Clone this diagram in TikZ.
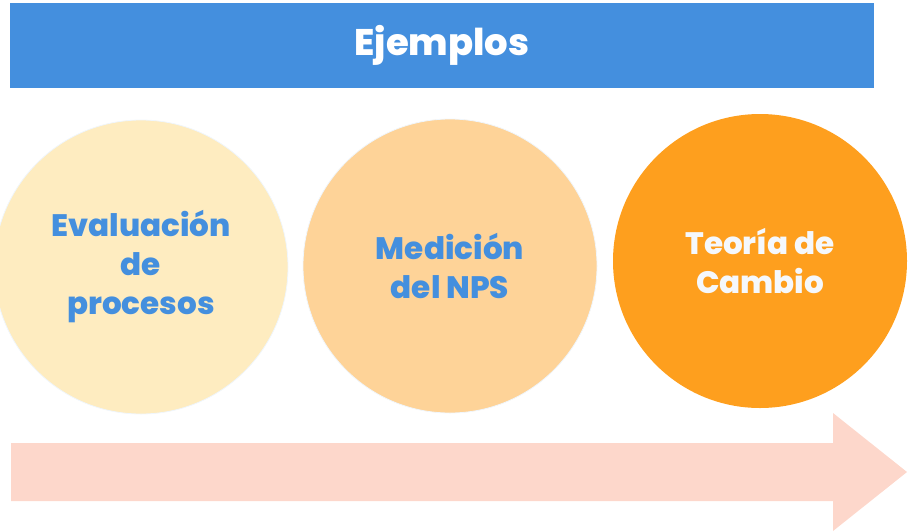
\documentclass[tikz,border=0pt]{standalone}
\usepackage{fontspec}
\setmainfont{Poppins}[BoldFont={* ExtraBold}]
\usepackage{tikz}

\definecolor{azul}{HTML}{448FDE}
\definecolor{crema}{HTML}{FEECC0}
\definecolor{melon}{HTML}{FED398}
\definecolor{naranja}{HTML}{FE9F1E}
\definecolor{salmon}{HTML}{FDD7CB}
\definecolor{blanco}{HTML}{F5F8FC}

\tikzset{
  etapa/.style={circle, minimum size=294pt, inner sep=0pt, draw=azul!8, line width=0.8pt,
    align=center, font=\bfseries\fontsize{31}{39}\selectfont}
}

\begin{document}
\begin{tikzpicture}[x=1pt,y=-1pt]
\clip (0,0) rectangle (913,531);
\fill[azul] (10,3) rectangle (874,88);
\node[text=white, font=\bfseries\fontsize{37}{42}\selectfont] (ejemplos) at (442,45) {Ejemplos};
\node[etapa, fill=crema, text=azul] (evaluacion) at (141,267) {Evaluación\\de\\procesos};
\node[etapa, fill=melon, text=azul] (medicion) at (450,266) {Medición\\del NPS};
\node[etapa, fill=naranja, draw=none, text=blanco] (teoria) at (760,261) {Teoría de\\Cambio};
\fill[salmon] (11,443) -- (833,443) -- (833,413) -- (907,472) -- (833,531) -- (833,501) -- (11,501) -- cycle;
\end{tikzpicture}
\end{document}
